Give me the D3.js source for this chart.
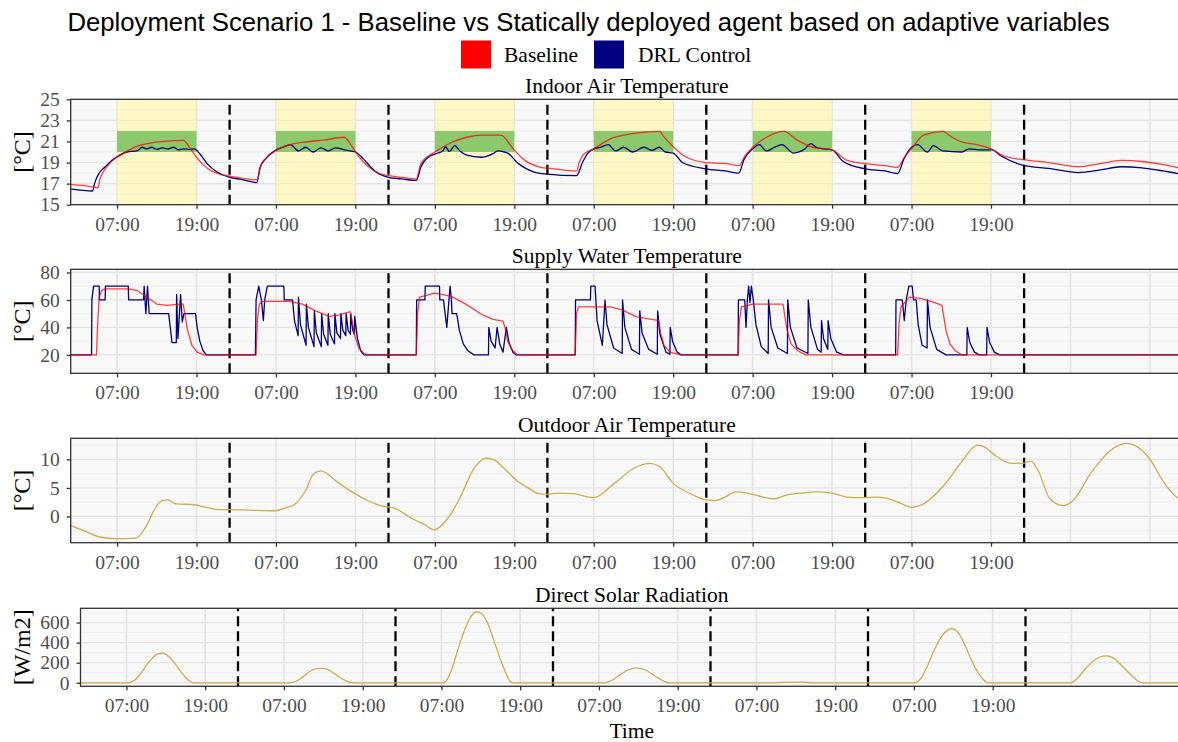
<!DOCTYPE html>
<html>
<head>
<meta charset="utf-8">
<script src="https://cdn.jsdelivr.net/npm/d3@7"></script>
<style>
  html, body { margin: 0; padding: 0; background: #ffffff; }
  svg { display: block; }
</style>
</head>
<body>
<svg id="chart" width="1178" height="742"></svg>
<script>
// ---------------------------------------------------------------
// Data: [hour since start of week, value]
// ---------------------------------------------------------------
const seriesNames = ["Baseline", "DRL Control"];

const indoorBaseline = [
  [0,16.9],[2,16.8],[4.1,16.6],[4.4,17.4],[5,18.2],[6,19.0],[7,19.5],[8,19.9],[9,20.25],[10.5,20.65],[12,20.85],[14,21.0],[17,21.1],[18,20.4],[19,19.5],[20,18.8],[21,18.3],[22,18.0],[24,17.7],[26,17.5],[28.2,17.35],
  [28.6,18.55],[29.5,19.4],[30.9,20.1],[33.2,20.7],[35.5,20.95],[38.4,21.15],[41.3,21.4],[42.5,20.5],[43.6,19.5],[44.8,18.7],[46.5,18.0],[48,17.75],[50,17.6],[52.2,17.45],
  [52.9,18.9],[55,20.0],[57.5,20.9],[59.8,21.4],[62.1,21.6],[65,21.6],[66.7,20.4],[68.4,19.3],[70.7,18.6],[73,18.4],[76.4,18.2],
  [76.8,19.0],[77.5,19.8],[79,20.3],[81.5,21.25],[84.4,21.7],[87.3,21.9],[89,21.95],[89.4,21.6],[91,20.5],[93,19.5],[96,19.0],[99,18.9],[101,18.7],
  [101.7,19.5],[103,20.45],[105.1,21.4],[107.7,21.95],[109.8,21.1],[112.1,20.45],[115,20.2],[117.3,19.2],[120,18.9],[123,18.7],[124.9,18.55],
  [125.9,19.5],[127,20.3],[128.8,21.6],[131.7,21.95],[133.1,21.4],[134.6,20.95],[136.9,20.7],[139.1,20.27],[141,19.6],[144.1,19.25],[147.7,19.0],[152.2,18.6],[155.5,18.9],[158.7,19.2],[161.8,19.1],[165,18.8],[168,18.4]
];

const indoorDRL = [
  [0,16.5],[3.3,16.3],[3.6,17.0],[4.2,17.9],[4.7,18.3],[5.4,18.7],[6.2,19.2],[7,19.55],[8.5,20.0],[10,20.1],[10.8,20.45],[11.5,20.3],[12.2,20.45],[13,20.25],[13.8,20.4],[14.7,20.3],[15.5,20.45],[16.3,20.2],[17,20.3],[18,20.25],[18.7,20.3],[19.4,19.9],[20.6,18.9],[22.1,18.1],[24,17.6],[25.7,17.4],[28.1,17.1],
  [28.6,18.5],[29.5,19.4],[30.9,20.15],[32,20.45],[33.2,20.7],[34.4,20.1],[35.5,20.45],[36.6,20.0],[37.8,20.4],[38.9,20.1],[40,20.4],[41.3,20.2],[43,20.0],[44.2,19.35],[45.9,18.2],[48,17.6],[50,17.45],[52.2,17.3],
  [52.9,18.6],[54,19.5],[55,19.8],[56.2,20.1],[56.6,20.5],[57.2,20.05],[58,20.6],[58.8,20.1],[59.8,19.7],[62,19.5],[63.8,19.85],[64.5,20.1],[65.5,20.0],[66,19.9],[67.6,18.9],[70,18.1],[72,17.9],[76.4,17.75],
  [77.3,19.0],[78,19.8],[79,20.3],[80,20.45],[81.2,20.7],[82.3,20.1],[83.5,20.45],[84.9,20.0],[86.6,20.45],[87.8,20.15],[88.9,20.45],[89.8,20.0],[91,19.9],[92.4,19.0],[95.9,18.4],[98.8,18.2],[100.9,18.0],
  [101.7,19.3],[103,20.3],[104,20.7],[105.1,20.1],[106.3,20.45],[107.4,20.7],[109.2,19.9],[110.9,20.3],[111.8,20.8],[112.6,20.45],[113.8,20.3],[115,20.2],[116.7,19.1],[120,18.4],[123,18.2],[124.9,17.95],
  [125.9,19.4],[127,20.45],[127.9,20.7],[129.4,20.0],[130.3,20.6],[131.7,20.1],[134.6,20.0],[135.7,20.3],[137.5,20.2],[139.1,20.2],[140.6,19.6],[144.1,18.7],[147.7,18.45],[152.2,18.05],[155.5,18.3],[158.7,18.6],[161.8,18.5],[165,18.2],[168,17.85]
];

const supplyBaseline = [
  [0,20],[3.9,20],[4.05,40],[4.3,62],[4.7,67],[5.2,68],[8.5,68],[10,67],[11.5,62],[13,57],[14.5,56],[16.5,57],[17.0,57],[17.3,48],[17.6,39],[18.3,27],[19.1,22],[20.1,20],
  [28.0,20],[28.2,45],[28.5,57],[29,59],[33,59],[35,57],[37,52],[39,48],[40.5,49],[42.2,51.5],[42.5,45],[42.9,34],[43.5,25],[44.3,21],[45,20],
  [52.2,20],[52.4,50],[52.7,62],[55,65],[57.5,62.6],[59.8,56.6],[62.1,49.4],[63.8,45.8],[65.3,44.5],[65.6,40],[66.0,30],[66.6,24],[67.5,20],
  [76.2,20],[76.4,50],[76.7,55],[81.5,55],[83.2,53],[85.5,47.7],[88.4,45.3],[88.8,45],[89.1,36],[89.6,27],[90.5,22],[92.2,20],
  [100.8,20],[101.0,45],[101.3,55],[103,57],[107.6,57],[107.8,50],[108.2,38],[108.8,28],[109.8,23],[111,20],
  [124.9,20],[125.1,42],[125.4,55],[126.7,62],[128.5,61],[130.5,58],[131.6,56],[131.8,50],[132.2,38],[132.8,28],[133.6,23],[134.6,20],[168,20]
];

const supplyDRL = [
  [0,20],[3.15,20],[3.2,60],[3.45,70],[4.3,70],[4.35,60],[5.2,60],[5.25,70],[8.7,70],[8.75,60],[11.0,60],[11.1,70],[11.35,50],[11.6,70],[11.85,50],[14.8,50],[15.3,29],[15.95,29],[16.0,64],[16.2,32],[16.6,64],[16.85,44],[17.1,50],[18.85,50],[19.1,40],[19.5,30],[20.0,23],[20.5,20],
  [27.9,20],[28.0,60],[28.4,70],[28.8,60],[29.1,45],[29.3,60],[29.7,70],[32.2,70],[32.25,60],[33.5,60],[33.8,45],[34.35,34],[34.4,62],[34.7,42],[35.55,27],[35.6,57],[35.9,40],[36.75,26],[36.8,52],[37.1,36],[37.85,26],[37.9,50],[38.2,35],[38.85,27],[38.9,50],[39.2,35],[39.85,28],[39.9,50],[40.2,36],[40.75,32],[40.8,50],[41.1,38],[41.55,34],[41.6,50],[41.9,38],[42.25,35],[42.3,50],[42.6,38],[42.85,35],[42.9,48],[43.3,32],[43.8,23],[44.3,20],
  [52.2,20],[52.25,60],[53.5,60],[53.55,70],[55.7,70],[55.75,60],[56.3,60],[56.8,40],[57.3,70],[57.5,60],[57.6,50],[58.3,50],[58.7,38],[59.3,28],[60,23],[60.9,20],[63.1,20],[63.15,40],[63.5,30],[64.1,25],[64.4,40],[64.8,28],[65.3,22],[65.8,40],[66.2,29],[66.8,22],[67.3,20],
  [76.2,20],[76.25,60],[78.5,60],[78.55,70],[79.2,70],[79.5,45],[80.3,27],[80.7,60],[81.0,42],[82.0,25],[83.3,21],[83.35,60],[83.7,40],[84.7,24],[85.9,20.5],[85.95,52],[86.3,36],[87.3,24],[88.6,20.5],[88.65,52],[89.0,35],[89.9,22],[90.5,20.5],[90.55,40],[90.9,30],[91.6,22],[92.2,20],
  [100.8,20],[100.85,60],[101.8,60],[102.0,40],[102.2,60],[102.4,70],[102.6,58],[102.8,70],[103.1,60],[103.5,42],[104.3,26],[105.35,21],[105.4,60],[105.8,40],[106.8,25],[108.25,21],[108.3,60],[108.7,40],[109.7,25],[111.35,21],[111.4,60],[111.8,40],[112.8,24],[113.35,22],[113.4,45],[113.7,32],[114.35,24],[114.4,45],[114.8,32],[115.7,22],[116.7,20],
  [124.6,20],[124.65,60],[125.6,60],[125.9,45],[126.2,60],[126.6,70],[127.1,70],[127.3,60],[127.7,60],[128.0,42],[128.6,27],[129.35,25],[129.4,60],[129.8,40],[130.8,24],[132.2,20],[135.35,20],[135.4,40],[135.8,29],[136.5,22],[137.2,20],[138.35,20],[138.4,40],[138.8,29],[139.5,22],[140.3,20],[168,20]
];

const outdoorTemp = [
  [0,-1.6],[2,-2.5],[4.4,-3.6],[6.7,-3.9],[9.9,-3.8],[11.3,-1.9],[13,1.9],[13.9,2.8],[14.7,2.9],[15.9,2.2],[18.2,2.1],[20.5,1.6],[22.3,1.2],[24,1.2],[26.9,1.1],[30.9,1.0],[32.4,1.5],[33.8,2.1],[35.5,4.6],[36.7,7.5],[37.8,8.0],[40.2,6.1],[42.5,4.3],[44.8,2.8],[47.1,1.8],[48.8,1.5],[51.6,-0.4],[53.4,-1.4],[54.9,-2.35],[56.9,-0.4],[58.6,2.8],[60.9,8.4],[62.7,10.2],[63.8,10.0],[65.5,8.4],[67.3,6.35],[69,5.1],[70.7,4.0],[71.9,3.9],[73.6,4.1],[75.9,4.0],[79,3.3],
  [82.1,5.8],[85,8.4],[87.5,9.3],[89,8.7],[91,5.8],[93.6,4.0],[96,2.9],[97.4,2.8],[98.8,3.4],[100.5,4.3],[102.2,4.1],[104.6,3.4],[106.3,3.1],[108,3.7],[110.3,4.1],[112.6,4.3],[114.9,4.1],[117.3,3.4],[119.6,3.3],[121.9,3.4],[123.6,3.1],[125.3,2.35],[127,1.6],[128.8,2.2],[131.7,5.2],[134.6,9.6],[136.9,12.5],[138,12.2],[139.5,10.8],[142.1,9.3],[143.8,9.3],[145,9.7],[146.1,8.1],[147.9,3.1],[149.9,1.9],[151.4,2.8],[154.2,7.8],[157.1,11.6],[159.4,12.8],[160.6,12.5],[162.9,10.2],[165.2,5.8],[167.4,3.1],[168,2.8]
];

const solarRadiation = [
  [0,0],[7.3,0],[8,15],[9,75],[10,170],[11,250],[12,292],[12.6,295],[13.3,270],[14.3,200],[15.3,110],[16.2,40],[16.8,8],[17.2,0],
  [31.9,0],[33,20],[34,65],[35,115],[36,140],[36.8,144],[37.6,135],[38.6,95],[39.6,50],[40.6,15],[41.7,0],
  [55.4,0],[56.5,120],[57.5,330],[58.5,520],[59.5,660],[60.3,705],[61,695],[62,600],[63,420],[64,230],[65,70],[65.5,10],[65.8,0],
  [79.9,0],[81,25],[82,70],[83.5,130],[84.8,148],[86,130],[87.5,70],[88.8,20],[89.7,0],
  [105,0],[107,5],[110,6],[112,0],
  [127.2,0],[128,40],[129,160],[130,310],[131,440],[132.3,530],[132.8,541],[133.6,510],[134.6,400],[135.6,250],[136.6,120],[137.6,30],[138.2,0],
  [150.9,0],[152,50],[153,130],[154.5,225],[155.8,265],[156.4,269],[157.3,250],[158.6,175],[159.9,90],[161,25],[161.8,0],[168,0]
];

// time axis: ticks at 07:00 and 19:00 for the first six days
const timeTickHours  = [7, 19, 31, 43, 55, 67, 79, 91, 103, 115, 127, 139];
const timeTickLabels = ["07:00","19:00","07:00","19:00","07:00","19:00","07:00","19:00","07:00","19:00","07:00","19:00"];
const gridHours      = [7, 19, 31, 43, 55, 67, 79, 91, 103, 115, 127, 139, 151, 163];
const midnightHours  = [24, 48, 72, 96, 120, 144];
const occupiedStart  = [7, 31, 55, 79, 103, 127];
const occupiedHours  = 12;
const comfortBand    = [20, 22];

// ---------------------------------------------------------------
// Styling and layout
// ---------------------------------------------------------------
const SERIF = "'Liberation Serif','Times New Roman',Times,serif";
const SANS  = "'Liberation Sans',Arial,Helvetica,sans-serif";
const RED = "#ff0000", NAVY = "#000080", GOLD = "#cdab50";
const RIGHT = 1183;

const panels = [
  { title: "Indoor Air Temperature", unit: "[°C]", top: 99.3, bottom: 204.7, left: 70.7,
    domain: [15, 25], major: [15,17,19,21,23,25], minor: [16,18,20,22,24], bands: true,
    lines: [{ data: indoorDRL, color: NAVY, opacity: 1 }, { data: indoorBaseline, color: RED, opacity: 0.75 }],
    curve: d3.curveMonotoneX },
  { title: "Supply Water Temperature", unit: "[°C]", top: 269.3, bottom: 373.3, left: 70.7,
    domain: [6.6, 82.3], major: [20,40,60,80], minor: [10,30,50,70],
    lines: [{ data: supplyDRL, color: NAVY, opacity: 1 }, { data: supplyBaseline, color: RED, opacity: 0.75 }],
    curve: d3.curveLinear },
  { title: "Outdoor Air Temperature", unit: "[°C]", top: 438.3, bottom: 542.7, left: 70.7,
    domain: [-4.6, 13.7], major: [0,5,10], minor: [-2.5,2.5,7.5,12.5],
    lines: [{ data: outdoorTemp, color: GOLD, opacity: 1 }],
    curve: d3.curveMonotoneX },
  { title: "Direct Solar Radiation", unit: "[W/m2]", top: 608.3, bottom: 686.3, left: 80.5,
    domain: [-35, 742], major: [0,200,400,600], minor: [100,300,500,700],
    lines: [{ data: solarRadiation, color: GOLD, opacity: 1 }],
    curve: d3.curveMonotoneX, xTitle: "Time" }
];

const svg = d3.select("#chart");
svg.append("rect").attr("width", 1178).attr("height", 742).attr("fill", "#ffffff");

// Title, sized so that it spans its measured target width
const title = svg.append("text")
  .attr("x", 588.5).attr("y", 31)
  .attr("text-anchor", "middle")
  .attr("font-family", SANS).attr("font-size", 24)
  .attr("fill", "#000")
  .text("Deployment Scenario 1 - Baseline vs Statically deployed agent based on adaptive variables");
const tw = title.node().getComputedTextLength();
if (tw > 0) title.attr("font-size", 24 * 1043 / tw);

// Legend
const legend = svg.append("g");
const legendItems = [
  { name: seriesNames[0], color: RED, sx: 461, tx: 504 },
  { name: seriesNames[1], color: NAVY, sx: 594, tx: 638 }
];
legendItems.forEach(d => {
  legend.append("rect").attr("x", d.sx).attr("y", 40.5).attr("width", 30).attr("height", 28)
    .attr("fill", d.color);
  legend.append("text").attr("x", d.tx).attr("y", 62)
    .attr("font-family", SERIF).attr("font-size", 21.5).attr("fill", "#000")
    .text(d.name);
});

panels.forEach((p, i) => {
  const x = d3.scaleLinear().domain([0, 168]).range([p.left, RIGHT]);
  const y = d3.scaleLinear().domain(p.domain).range([p.bottom, p.top]);
  const g = svg.append("g");
  const clipId = "clip" + i;
  g.append("clipPath").attr("id", clipId).append("rect")
    .attr("x", p.left).attr("y", p.top).attr("width", RIGHT - p.left).attr("height", p.bottom - p.top);

  // panel background
  g.append("rect").attr("x", p.left).attr("y", p.top)
    .attr("width", RIGHT - p.left).attr("height", p.bottom - p.top).attr("fill", "#f8f8f8");

  // grid
  const grid = g.append("g").attr("clip-path", `url(#${clipId})`);
  grid.selectAll(".hmin").data(p.minor).join("line")
    .attr("x1", p.left).attr("x2", RIGHT).attr("y1", d => y(d)).attr("y2", d => y(d))
    .attr("stroke", "#ececec").attr("stroke-width", 0.8);
  grid.selectAll(".hmaj").data(p.major).join("line")
    .attr("x1", p.left).attr("x2", RIGHT).attr("y1", d => y(d)).attr("y2", d => y(d))
    .attr("stroke", "#e4e4e4").attr("stroke-width", 1.3);
  grid.selectAll(".vmaj").data(gridHours).join("line")
    .attr("x1", d => x(d)).attr("x2", d => x(d)).attr("y1", p.top).attr("y2", p.bottom)
    .attr("stroke", "#e4e4e4").attr("stroke-width", 1.6);

  // occupied periods and comfort band
  if (p.bands) {
    grid.selectAll(".occ").data(occupiedStart).join("rect")
      .attr("x", d => x(d)).attr("width", d => x(d + occupiedHours) - x(d))
      .attr("y", p.top).attr("height", p.bottom - p.top)
      .attr("fill", "#fff59a").attr("fill-opacity", 0.55);
    grid.selectAll(".comfort").data(occupiedStart).join("rect")
      .attr("x", d => x(d)).attr("width", d => x(d + occupiedHours) - x(d))
      .attr("y", y(comfortBand[1])).attr("height", y(comfortBand[0]) - y(comfortBand[1]))
      .attr("fill", "#8cc96c");
  }

  // day boundaries
  grid.selectAll(".mid").data(midnightHours).join("line")
    .attr("x1", d => x(d)).attr("x2", d => x(d)).attr("y1", p.bottom).attr("y2", p.top)
    .attr("stroke", "#000").attr("stroke-width", 2.3).attr("stroke-dasharray", "10,5");

  // series
  const line = d3.line().x(d => x(d[0])).y(d => y(d[1])).curve(p.curve);
  p.lines.forEach(s => {
    grid.append("path").datum(s.data).attr("d", line)
      .attr("fill", "none").attr("stroke", s.color).attr("stroke-opacity", s.opacity)
      .attr("stroke-width", 1.3).attr("stroke-linejoin", "round");
  });

  // frame
  g.append("rect").attr("x", p.left).attr("y", p.top)
    .attr("width", RIGHT - p.left).attr("height", p.bottom - p.top)
    .attr("fill", "none").attr("stroke", "#333333").attr("stroke-width", 1.3);

  // axes
  const yAxis = d3.axisLeft(y).tickValues(p.major).tickSize(4).tickSizeOuter(0).tickPadding(7);
  const ya = g.append("g").attr("transform", `translate(${p.left},0)`).call(yAxis);
  const xAxis = d3.axisBottom(x).tickValues(timeTickHours)
    .tickFormat((d, k) => timeTickLabels[k]).tickSize(4).tickSizeOuter(0).tickPadding(8);
  const xa = g.append("g").attr("transform", `translate(0,${p.bottom})`).call(xAxis);
  [ya, xa].forEach(a => {
    a.select(".domain").remove();
    a.selectAll(".tick line").attr("stroke", "#333333").attr("stroke-width", 1.3);
    a.selectAll(".tick text").attr("font-family", SERIF).attr("font-size", 19.5).attr("fill", "#4d4d4d");
  });

  // panel title
  g.append("text").attr("x", (p.left + RIGHT) / 2).attr("y", p.top - 6)
    .attr("text-anchor", "middle").attr("font-family", SERIF).attr("font-size", 21.5)
    .attr("fill", "#000").text(p.title);

  // unit label
  g.append("text")
    .attr("transform", `translate(22,${(p.top + p.bottom) / 2}) rotate(-90)`)
    .attr("text-anchor", "middle").attr("dy", "0.35em")
    .attr("font-family", SERIF).attr("font-size", 24).attr("fill", "#000")
    .text(p.unit);

  if (p.xTitle) {
    g.append("text").attr("x", (p.left + RIGHT) / 2).attr("y", 738)
      .attr("text-anchor", "middle").attr("font-family", SERIF).attr("font-size", 21.5)
      .attr("fill", "#000").text(p.xTitle);
  }
});
</script>
</body>
</html>
